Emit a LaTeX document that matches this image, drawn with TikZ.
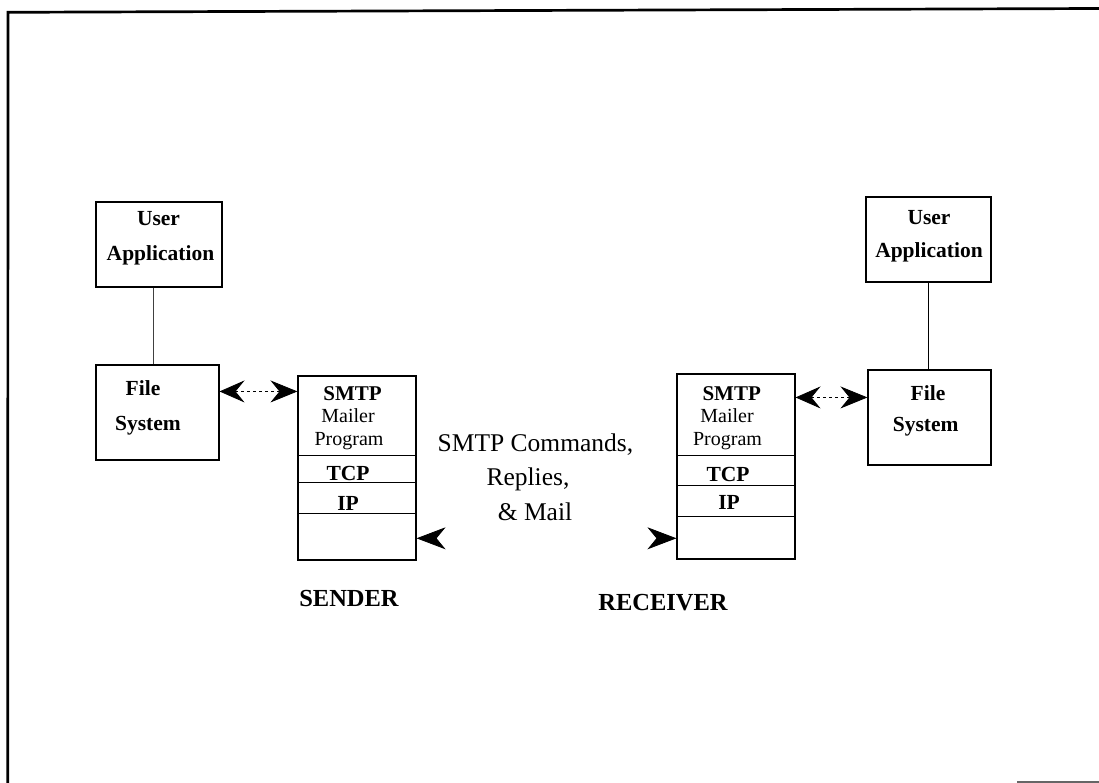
\documentclass[tikz,border=0pt]{standalone}
\usepackage{fontspec}
\setmainfont{Liberation Serif}
\usetikzlibrary{arrows.meta}

\begin{document}
\begin{tikzpicture}[x=1pt,y=-1pt,
  box/.style={draw, line width=1.1pt, inner sep=0pt},
  lbl/.style={anchor=base, inner sep=0pt, font=\fontsize{21.5}{21.5}\selectfont\bfseries},
  lblr/.style={anchor=base, inner sep=0pt, font=\fontsize{20}{20}\selectfont},
  midtxt/.style={anchor=base, inner sep=0pt, font=\fontsize{25.5}{25.5}\selectfont},
  side/.style={anchor=base, inner sep=0pt, font=\fontsize{24.5}{24.5}\selectfont\bfseries},
  dbl/.style={{Stealth[length=25pt,width=22pt,inset=9pt]}-{Stealth[length=27pt,width=22pt,inset=9pt]},
              line width=0.8pt, dash pattern=on 3pt off 3pt},
  single/.style={-{Stealth[length=29pt,width=22pt,inset=9pt]}, line width=0.8pt},
  layer/.style={line width=1pt},
  link/.style={line width=0.9pt}
]
\useasboundingbox (0,0) rectangle (1099,783);

% outer frame
\draw[line width=2.7pt] (1099,8.5) -- (8,12.3) -- (7.7,783);
\draw[line width=1.5pt, black!60] (1017,782) -- (1099,782);

% ---------- sender side ----------
\node[box, minimum width=126, minimum height=85] (uaL) at (159,244.5) {};
\node[box, minimum width=123, minimum height=95] (fsL) at (157.5,412.5) {};
\node[box, minimum width=118, minimum height=184] (stL) at (357,468) {};

\node[lbl] (tUserL) at (158.5,226) {User};
\node[lbl] (tAppL) at (160.5,260.5) {Application};
\node[lbl] (tFileL) at (143,395) {File};
\node[lbl] (tSysL) at (148,430) {System};
\node[lbl, font=\fontsize{21}{21}\selectfont\bfseries] (tSmtpL) at (352.5,400) {SMTP};
\node[lblr] (tMailL) at (348,422.5) {Mailer};
\node[lblr] (tProgL) at (349,445) {Program};
\node[lbl] (tTcpL) at (348,480) {TCP};
\node[lbl] (tIpL) at (348,510) {IP};

\draw[layer] ([yshift=-79.7pt]stL.north west) -- ([yshift=-79.7pt]stL.north east);
\draw[layer] ([yshift=-107.3pt]stL.north west) -- ([yshift=-107.3pt]stL.north east);
\draw[layer] ([yshift=-138.3pt]stL.north west) -- ([yshift=-138.3pt]stL.north east);

\draw[link, black!75] ([xshift=-6pt]uaL.south) -- ([xshift=-6pt]uaL.south |- fsL.north);
\draw[dbl] ([yshift=-27pt]fsL.north east) -- ([yshift=-16pt]stL.north west);

% ---------- receiver side ----------
\node[box, minimum width=125, minimum height=85] (uaR) at (928.5,239.5) {};
\node[box, minimum width=123, minimum height=95] (fsR) at (929.5,417.5) {};
\node[box, minimum width=118, minimum height=185] (stR) at (736,466.5) {};

\node[lbl] (tUserR) at (929,225) {User};
\node[lbl] (tAppR) at (929,258) {Application};
\node[lbl] (tFileR) at (928,400) {File};
\node[lbl] (tSysR) at (925.7,431.7) {System};
\node[lbl, font=\fontsize{21}{21}\selectfont\bfseries] (tSmtpR) at (731.7,400) {SMTP};
\node[lblr] (tMailR) at (727,422.5) {Mailer};
\node[lblr] (tProgR) at (727.5,445) {Program};
\node[lbl] (tTcpR) at (728,481.7) {TCP};
\node[lbl] (tIpR) at (729,509) {IP};

\draw[layer] ([yshift=-81.7pt]stR.north west) -- ([yshift=-81.7pt]stR.north east);
\draw[layer] ([yshift=-111.7pt]stR.north west) -- ([yshift=-111.7pt]stR.north east);
\draw[layer] ([yshift=-142.7pt]stR.north west) -- ([yshift=-142.7pt]stR.north east);

\draw[link] (uaR.south) -- (uaR.south |- fsR.north);
\draw[dbl] ([yshift=-24pt]stR.north east) -- ([yshift=-28pt]fsR.north west);

% ---------- exchange between the two mailers ----------
% tails sit at the back notch of each head, so only the heads show
\coordinate (tailL) at (436.7,538.3);
\coordinate (tailR) at (657,538.3);
\draw[single] (tailL) -- (tailL -| stL.east);
\draw[single] (tailR) -- (tailR -| stR.west);

\node[midtxt] (tCmd) at (535.5,451) {SMTP Commands,};
\node[midtxt] (tRep) at (528,485) {Replies,};
\node[midtxt] (tMail) at (535,520) {\& Mail};

\node[side] (tSender) at (349,606) {SENDER};
\node[side] (tReceiver) at (663,610) {RECEIVER};
\end{tikzpicture}
\end{document}
